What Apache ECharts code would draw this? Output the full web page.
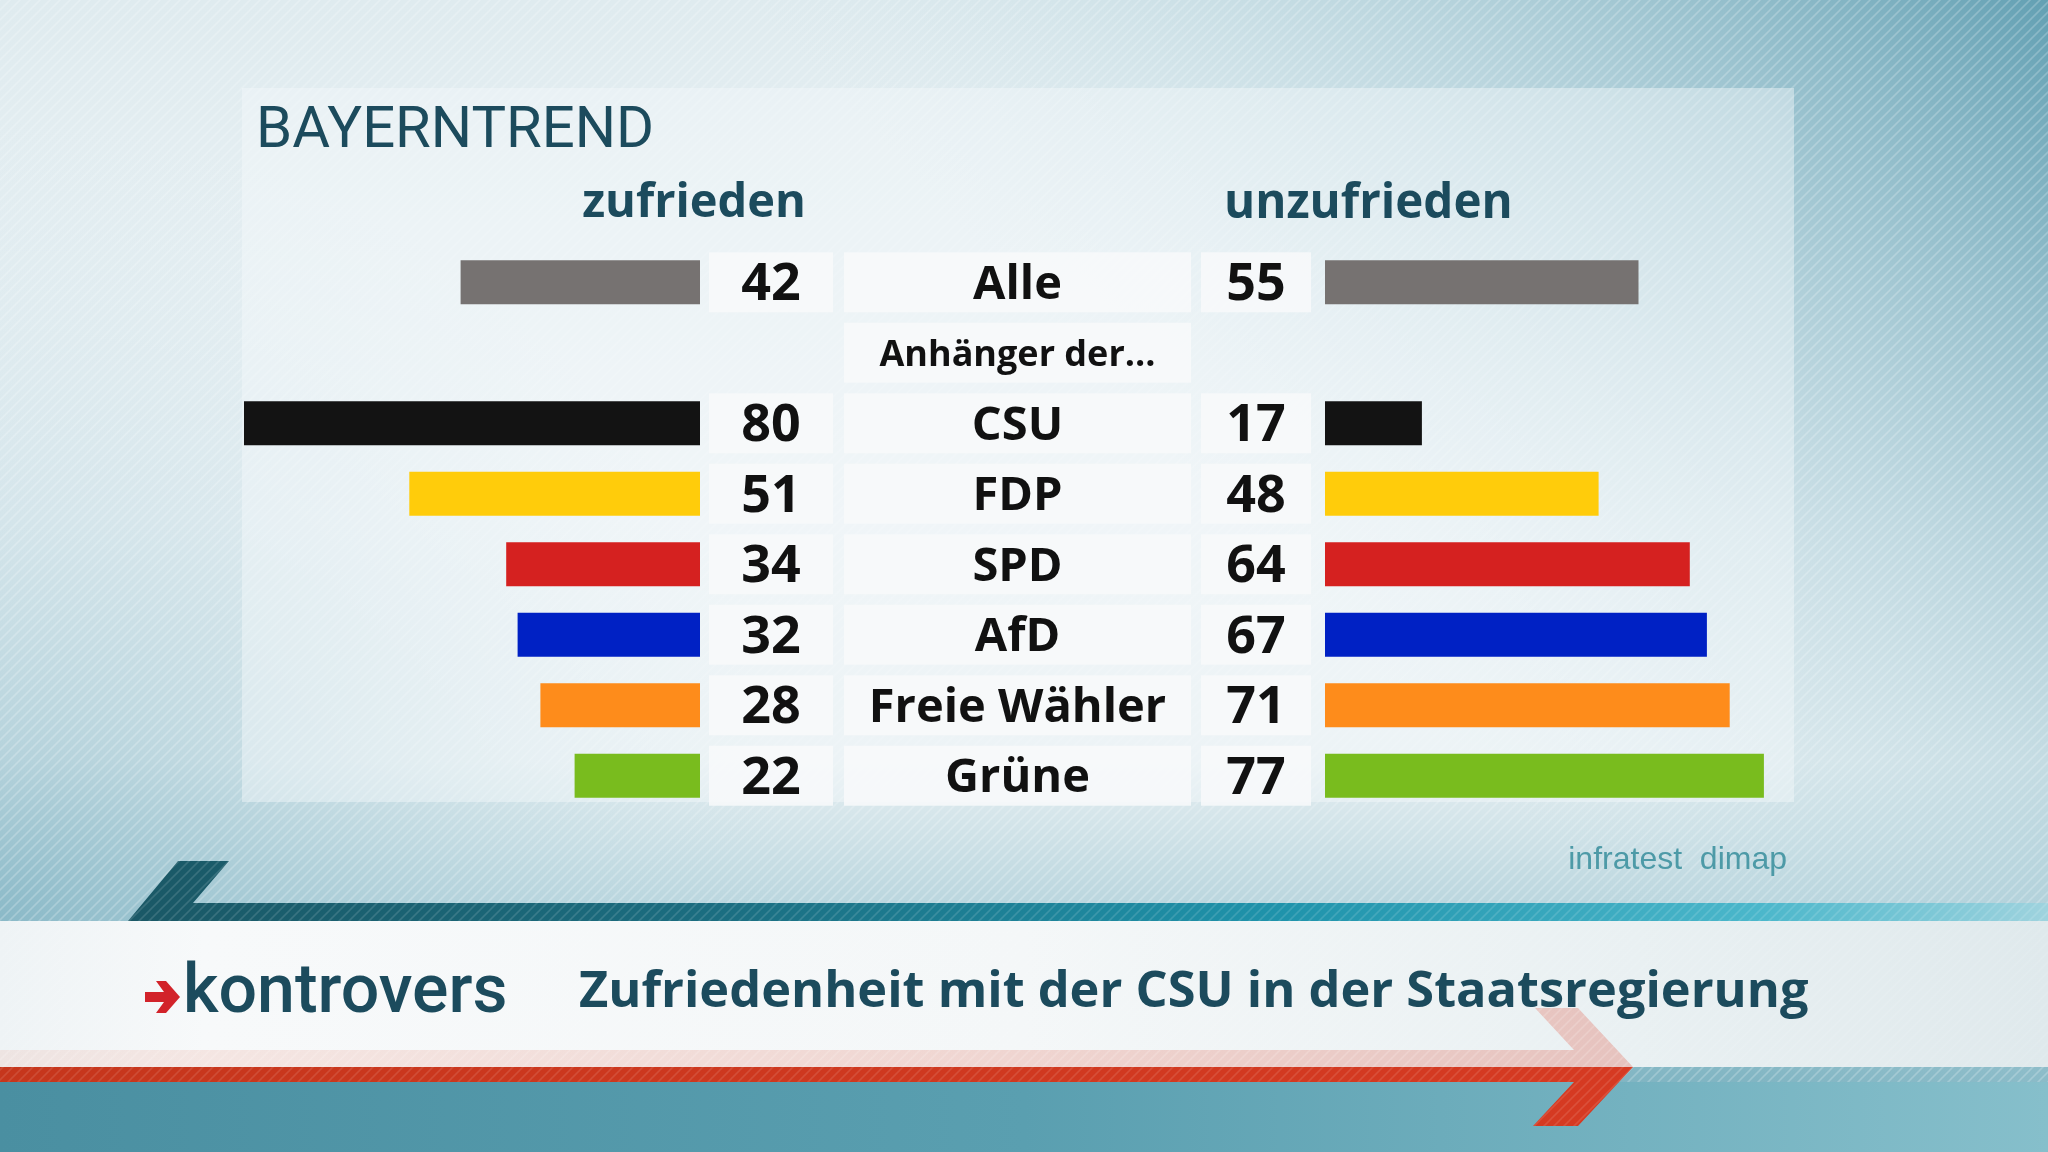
<!DOCTYPE html>
<html><head><meta charset="utf-8">
<script src="https://cdn.jsdelivr.net/npm/echarts@6/dist/echarts.min.js"></script>
<style>html,body{margin:0;padding:0;width:2048px;height:1152px;overflow:hidden;background:#e8f1f4}#c{width:2048px;height:1152px}</style>
</head><body><div id="c"></div>
<script>
// ---- data ----
const categories = ['Alle', 'Anhänger der...', 'CSU', 'FDP', 'SPD', 'AfD', 'Freie Wähler', 'Grüne'];
const zufrieden = [42, null, 80, 51, 34, 32, 28, 22];
const unzufrieden = [55, null, 17, 48, 64, 67, 71, 77];
const barColors = ['#767271', null, '#131313', '#ffcc0b', '#d52120', '#0021c4', '#fe8c1b', '#79bc1e'];
const headers = ['zufrieden', 'unzufrieden'];
const brandText = 'BAYERNTREND';
const sourceText = 'infratest  dimap';
const showText = 'kontrovers';
const titleText = 'Zufriedenheit mit der CSU in der Staatsregierung';

// ---- layout ----
const TOP = 247, H = 564;
const LABEL_FONT = '"Open Sans", "Noto Sans", sans-serif';
const DARK = '#1c4b5d';

const stripe = document.createElement('canvas');
stripe.width = 10; stripe.height = 10;
(function(){
  const g = stripe.getContext('2d');
  g.strokeStyle = 'rgba(255,255,255,0.22)';
  g.lineWidth = 1.6;
  g.beginPath();
  g.moveTo(-2, 12); g.lineTo(12, -2);
  g.moveTo(-2, 2); g.lineTo(2, -2);
  g.moveTo(8, 12); g.lineTo(12, 8);
  g.stroke();
})();
const stripeFill = { image: stripe, repeat: 'repeat' };

function yAxisFor(i) {
  return { type: 'category', data: categories, gridIndex: i, inverse: true, show: false };
}
function xAxisFor(i, max, inverse) {
  return { type: 'value', gridIndex: i, min: 0, max: max, inverse: !!inverse, show: false };
}
const BOX = 'rgba(248,249,250,0.86)';
function boxSeries(idx, values, fmt, sizeFn) {
  return {
    type: 'bar', xAxisIndex: idx, yAxisIndex: idx, barWidth: 60, silent: true,
    data: values.map((v, i) => v === null ? null : {
      value: 1,
      label: { fontSize: sizeFn ? sizeFn(i) : 52 }
    }),
    itemStyle: { color: BOX },
    label: {
      show: true, position: 'inside', color: '#111', fontWeight: 'bold', offset: [0, 3],
      fontFamily: LABEL_FONT, formatter: p => fmt(p.dataIndex)
    },
    z: 3
  };
}

const chart = echarts.init(document.getElementById('c'), null, { renderer: 'canvas' });
const option = {
  animation: false,
  grid: [
    { left: 130, width: 570, top: TOP, height: H },
    { left: 709, width: 124, top: TOP, height: H },
    { left: 844, width: 347, top: TOP, height: H },
    { left: 1201, width: 110, top: TOP, height: H },
    { left: 1325, width: 570, top: TOP, height: H }
  ],
  xAxis: [xAxisFor(0, 100, true), xAxisFor(1, 1), xAxisFor(2, 1), xAxisFor(3, 1), xAxisFor(4, 100)],
  yAxis: [yAxisFor(0), yAxisFor(1), yAxisFor(2), yAxisFor(3), yAxisFor(4)],
  series: [
    {
      type: 'bar', xAxisIndex: 0, yAxisIndex: 0, barWidth: 44, silent: true,
      data: zufrieden.map((v, i) => v === null ? null : { value: v, itemStyle: { color: barColors[i] } }),
      z: 3
    },
    boxSeries(1, zufrieden, i => String(zufrieden[i])),
    boxSeries(2, categories, i => categories[i], i => categories[i].indexOf('...') > 0 ? 36 : 47),
    boxSeries(3, unzufrieden, i => String(unzufrieden[i])),
    {
      type: 'bar', xAxisIndex: 4, yAxisIndex: 4, barWidth: 44, silent: true,
      data: unzufrieden.map((v, i) => v === null ? null : { value: v, itemStyle: { color: barColors[i] } }),
      z: 3
    }
  ],
  graphic: [
    // background
    { type: 'rect', z: -20, shape: { x: 0, y: 0, width: 2048, height: 1152 },
      style: { fill: { type: 'linear', x: 0, y: 0, x2: 0, y2: 1, colorStops: [
        { offset: 0, color: '#dfebef' }, { offset: 0.45, color: '#edf3f6' },
        { offset: 0.66, color: '#e6eff2' }, { offset: 0.78, color: '#bcd7df' }, { offset: 1, color: '#6aa8b8' }] } } },
    { type: 'rect', z: -19, shape: { x: 0, y: 0, width: 2048, height: 1152 },
      style: { fill: { type: 'linear', global: true, x: 2048, y: 0, x2: 1350, y2: 650, colorStops: [
        { offset: 0, color: 'rgba(92,156,176,0.95)' }, { offset: 1, color: 'rgba(200,225,232,0)' }] } } },
    { type: 'rect', z: -19, shape: { x: 0, y: 0, width: 2048, height: 1152 },
      style: { fill: { type: 'radial', global: true, x: 0, y: 920, r: 800, colorStops: [
        { offset: 0, color: 'rgba(110,168,186,0.6)' }, { offset: 1, color: 'rgba(200,225,232,0)' }] } } },
    { type: 'rect', z: -18, shape: { x: 0, y: 0, width: 2048, height: 1152 }, style: { fill: stripeFill } },
    // panel
    { type: 'rect', z: -17, shape: { x: 242, y: 88, width: 1552, height: 714 },
      style: { fill: 'rgba(245,249,250,0.45)' } },
    // banner: white band
    { type: 'rect', z: -10, shape: { x: 0, y: 921, width: 2048, height: 146 },
      style: { fill: { type: 'linear', x: 0, y: 0, x2: 1, y2: 0, colorStops: [
        { offset: 0, color: '#eef3f5' }, { offset: 0.1, color: '#f7f9fa' }, { offset: 0.5, color: '#f4f7f8' },
        { offset: 0.8, color: '#e9f0f2' }, { offset: 1, color: '#dfe9ec' }] } } },
    { type: 'rect', z: -9, shape: { x: 0, y: 921, width: 2048, height: 146 }, style: { fill: stripeFill, opacity: 0.5 } },
    // bottom teal
    { type: 'rect', z: -10, shape: { x: 0, y: 1082, width: 2048, height: 70 },
      style: { fill: { type: 'linear', x: 0, y: 0, x2: 1, y2: 0, colorStops: [
        { offset: 0, color: '#4a8fa1' }, { offset: 0.5, color: '#5a9fb0' }, { offset: 1, color: '#86bfcb' }] } } },
    // dark teal band with slanted end
    { type: 'polygon', z: -8, shape: { points: [[128, 921], [178, 861], [229, 861], [193, 903], [2048, 903], [2048, 921]] },
      style: { fill: { type: 'linear', global: true, x: 128, y: 0, x2: 2048, y2: 0, colorStops: [
        { offset: 0, color: '#1a5866' }, { offset: 0.3, color: '#1b6d80' }, { offset: 0.6, color: '#1f93ab' },
        { offset: 0.85, color: '#4bb7cb' }, { offset: 1, color: '#9fd3de' }] } } },
    { type: 'polygon', z: -7, shape: { points: [[128, 921], [178, 861], [229, 861], [193, 903], [2048, 903], [2048, 921]] },
      style: { fill: stripeFill, opacity: 0.6 } },
    // faded upper arrow half
    { type: 'polygon', z: -8, shape: { points: [[1535, 1008], [1578, 1008], [1633, 1067], [0, 1067], [0, 1050], [1574, 1050]] },
      style: { fill: { type: 'linear', global: true, x: 0, y: 0, x2: 1633, y2: 0, colorStops: [
        { offset: 0, color: 'rgba(235,160,140,0.18)' }, { offset: 1, color: 'rgba(225,120,105,0.38)' }] } } },
    { type: 'polygon', z: -7, shape: { points: [[1535, 1008], [1578, 1008], [1633, 1067], [0, 1067], [0, 1050], [1574, 1050]] },
      style: { fill: stripeFill, opacity: 0.7 } },
    // red lower arrow half
    { type: 'polygon', z: -8, shape: { points: [[0, 1067], [1633, 1067], [1578, 1126], [1533, 1126], [1574, 1082], [0, 1082]] },
      style: { fill: { type: 'linear', global: true, x: 0, y: 0, x2: 1633, y2: 0, colorStops: [
        { offset: 0, color: '#c6361c' }, { offset: 1, color: '#d63a22' }] } } },
    { type: 'polygon', z: -7, shape: { points: [[0, 1067], [1633, 1067], [1578, 1126], [1533, 1126], [1574, 1082], [0, 1082]] },
      style: { fill: stripeFill, opacity: 0.5 } },
    // texts
    { type: 'text', z: 10, left: 256, top: 103,
      style: { text: brandText, fill: DARK, font: '400 58px Roboto, sans-serif' } },
    { type: 'text', z: 10, style: { text: headers[0], x: 806, y: 204, align: 'right', verticalAlign: 'middle',
      fill: DARK, font: 'bold 47px ' + LABEL_FONT } },
    { type: 'text', z: 10, style: { text: headers[1], x: 1224, y: 204, align: 'left', verticalAlign: 'middle',
      fill: DARK, font: 'bold 47.5px ' + LABEL_FONT } },
    { type: 'text', z: 10, style: { text: sourceText, x: 1787, y: 860, align: 'right', verticalAlign: 'middle',
      fill: '#4d9aa7', font: '32px "Liberation Sans", Arial, sans-serif' } },
    // kontrovers logo arrow
    { type: 'polygon', z: 10, shape: { points: [[145, 992], [164, 992], [156, 981], [166, 981], [180, 997], [166, 1013], [156, 1013], [164, 1002], [145, 1002]] },
      style: { fill: '#d2232a' } },
    { type: 'text', z: 10, style: { text: showText, x: 183, y: 995, align: 'left', verticalAlign: 'middle',
      fill: DARK, font: '500 68px Roboto, sans-serif' } },
    { type: 'text', z: 10, style: { text: titleText, x: 579, y: 993, align: 'left', verticalAlign: 'middle',
      fill: DARK, font: 'bold 50.5px ' + LABEL_FONT } }
  ]
};
chart.setOption(option);
</script></body></html>
